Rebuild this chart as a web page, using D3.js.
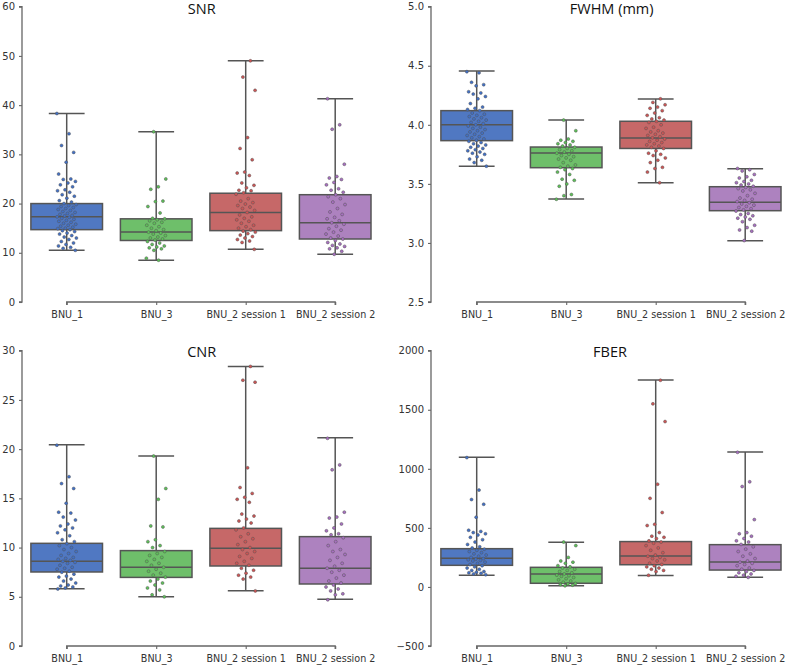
<!DOCTYPE html>
<html><head><meta charset="utf-8">
<script src="https://cdn.jsdelivr.net/npm/d3@7"></script>
<style>
body{margin:0;background:#fff;}
svg{display:block;}
</style></head>
<body>
<svg id="chart" width="787" height="668"></svg>
<script>
const categories = ["BNU_1", "BNU_3", "BNU_2 session 1", "BNU_2 session 2"];
const titles = ["SNR", "FWHM (mm)", "CNR", "FBER"];

// box stats: [min, q1, median, q3, max]
const snrBox = [[10.5,14.7,17.3,20.0,38.3],[8.5,12.5,14.2,16.9,34.6],[10.7,14.5,18.2,22.1,49.0],[9.7,12.8,16.1,21.8,41.3]];
const fwhmBox = [[3.65,3.866,4.0,4.12,4.455],[3.372,3.637,3.762,3.812,4.04],[3.51,3.80,3.888,4.03,4.218],[3.019,3.273,3.345,3.476,3.629]];
const cnrBox = [[5.82,7.52,8.6,10.43,20.45],[5.01,6.97,7.99,9.69,19.3],[5.62,8.13,9.92,11.95,28.4],[4.74,6.30,7.89,11.11,21.15]];
const fberBox = [[100,183,242,324,1097],[10,31,110,166,378],[97,188,262,384,1752],[81,143,212,358,1142]];

const snrPoints = [
 [38.3,34.2,31.8,30.4,28.4,26.0,25.0,24.9,24.5,24.2,23.8,23.4,22.8,22.6,22.3,21.8,21.5,21.1,20.6,20.3,20.0,19.8,19.6,19.4,19.2,19.0,18.8,18.6,18.4,18.2,18.0,17.8,17.6,17.5,17.3,17.2,17.0,16.8,16.6,16.4,16.2,16.0,15.8,15.6,15.4,15.2,15.0,14.9,14.7,14.5,14.3,14.0,13.8,13.5,13.2,13.0,12.7,12.3,12.0,11.7,11.4,11.1,10.9,10.5],
 [34.6,25.0,23.4,22.9,20.5,20.4,19.4,18.1,17.0,16.9,16.7,16.5,16.2,16.0,15.6,15.3,15.0,14.7,14.5,14.2,14.0,13.8,13.5,13.2,13.0,12.8,12.6,12.3,12.0,11.7,11.4,11.2,11.0,10.8,10.5,8.9,8.5],
 [49.0,45.7,43.0,33.4,31.2,28.9,26.4,26.2,25.7,24.2,23.7,23.2,22.7,22.6,22.2,21.9,21.0,20.5,20.2,19.9,19.6,19.3,19.0,18.6,18.2,17.7,17.3,17.0,16.7,16.4,16.0,15.6,15.3,15.0,14.7,14.4,14.2,13.9,13.6,13.3,13.0,12.7,12.4,12.1,10.7],
 [41.3,36.0,35.1,28.0,25.5,25.2,24.9,24.3,23.8,23.0,22.7,22.3,21.8,21.4,21.0,20.3,19.8,19.0,18.3,17.8,17.2,16.9,16.5,16.1,15.8,15.4,14.9,14.6,14.2,13.8,13.4,13.0,12.8,12.5,12.1,11.8,11.5,11.3,11.0,10.8,10.3,9.7]
];
const fwhmPoints = [
 [4.45,4.44,4.36,4.34,4.33,4.28,4.27,4.26,4.24,4.22,4.18,4.15,4.14,4.13,4.12,4.10,4.09,4.08,4.07,4.06,4.05,4.04,4.03,4.02,4.01,4.00,3.99,3.98,3.97,3.96,3.95,3.94,3.93,3.92,3.91,3.90,3.89,3.88,3.87,3.86,3.85,3.84,3.83,3.82,3.81,3.80,3.79,3.78,3.77,3.76,3.75,3.73,3.71,3.70,3.68,3.65],
 [4.04,3.95,3.88,3.87,3.86,3.85,3.84,3.83,3.82,3.81,3.80,3.79,3.78,3.77,3.76,3.75,3.74,3.73,3.72,3.71,3.70,3.68,3.66,3.65,3.64,3.63,3.62,3.60,3.58,3.54,3.53,3.50,3.48,3.41,3.40,3.37],
 [4.22,4.19,4.17,4.15,4.14,4.12,4.10,4.08,4.06,4.05,4.04,4.03,4.02,4.00,3.98,3.97,3.95,3.94,3.93,3.92,3.91,3.90,3.89,3.88,3.87,3.86,3.85,3.84,3.83,3.82,3.81,3.80,3.78,3.76,3.75,3.74,3.72,3.70,3.68,3.64,3.63,3.60,3.51],
 [3.63,3.62,3.61,3.58,3.56,3.55,3.53,3.52,3.51,3.50,3.49,3.48,3.47,3.46,3.45,3.44,3.42,3.40,3.38,3.37,3.36,3.35,3.34,3.33,3.32,3.31,3.30,3.29,3.28,3.27,3.25,3.24,3.23,3.22,3.21,3.20,3.18,3.15,3.13,3.11,3.10,3.02]
];
const cnrPoints = [
 [20.4,17.2,16.5,16.0,14.5,13.6,13.5,13.1,12.8,12.4,12.2,12.0,11.8,11.5,11.2,10.8,10.6,10.4,10.2,10.0,9.8,9.6,9.4,9.2,9.0,8.9,8.8,8.7,8.6,8.5,8.4,8.2,8.0,7.9,7.8,7.6,7.5,7.3,7.1,7.0,6.8,6.6,6.4,6.2,6.1,6.0,5.9,5.8],
 [19.3,16.0,14.9,12.2,12.1,10.8,10.6,10.2,10.0,9.6,9.4,9.2,9.0,8.8,8.6,8.4,8.2,8.0,7.8,7.6,7.4,7.2,7.0,6.8,6.6,6.4,6.2,5.9,5.7,5.2,5.0],
 [28.4,27.0,26.8,18.1,16.1,15.5,15.1,14.9,14.6,13.4,13.2,12.9,12.7,12.5,12.0,11.8,11.4,11.1,10.9,10.6,10.3,10.0,9.8,9.6,9.4,9.1,8.9,8.6,8.4,8.2,7.9,7.7,7.4,7.2,7.0,6.8,5.6],
 [21.1,18.4,17.9,13.6,13.1,13.0,12.4,12.0,11.7,11.4,11.3,11.0,10.6,10.2,9.8,9.6,9.3,9.0,8.7,8.4,8.1,7.9,7.7,7.5,7.2,6.9,6.6,6.4,6.2,6.0,5.8,5.6,5.3,5.2,4.7]
];
const fberPoints = [
 [1095,820,740,700,590,480,470,460,450,440,420,400,380,360,340,330,320,310,300,290,280,270,260,250,240,235,230,225,220,210,200,190,180,170,160,150,140,130,125,120,115,110,104],
 [380,350,250,220,210,200,180,170,160,150,140,130,120,110,100,95,90,80,70,60,50,40,30,25,20,15,10],
 [1750,1550,1400,870,750,630,530,520,460,430,420,410,390,380,370,350,330,310,290,270,260,250,240,230,220,200,190,180,170,160,150,140,130,99],
 [1140,890,850,570,460,450,430,410,390,380,360,340,320,300,280,260,240,220,210,200,190,180,160,150,140,130,120,110,100,90,81]
];

const snrTicks = [0,10,20,30,40,50,60];
const fwhmTicks = [2.5,3.0,3.5,4.0,4.5,5.0];
const cnrTicks = [0,5,10,15,20,25,30];
const fberTicks = [-500,0,500,1000,1500,2000];

const boxColors = ["#5078c2", "#6ebf6a", "#c66868", "#ad82bf"];
const pointColors = ["#4070c8", "#5cc257", "#cf5454", "#a86fc2"];

const svg = d3.select("#chart");
const lineCol = "#555";

const panels = [
  {title: titles[0], box: snrBox, pts: snrPoints, ticks: snrTicks, fmt: d3.format("d"), x0: 22, x1: 66.7, x2: 335.2, yTop: 6.7, yBot: 302, tx: 201.7, tyb: 14},
  {title: titles[1], box: fwhmBox, pts: fwhmPoints, ticks: fwhmTicks, fmt: d3.format(".1f"), x0: 431, x1: 476.7, x2: 745.2, yTop: 6.7, yBot: 302, tx: 611.7, tyb: 14},
  {title: titles[2], box: cnrBox, pts: cnrPoints, ticks: cnrTicks, fmt: d3.format("d"), x0: 22, x1: 66.7, x2: 335.2, yTop: 350.7, yBot: 646, tx: 201.7, tyb: 356.5},
  {title: titles[3], box: fberBox, pts: fberPoints, ticks: fberTicks, fmt: d => (d < 0 ? "\u2212" + Math.abs(d) : String(d)), x0: 431, x1: 476.7, x2: 745.2, yTop: 350.7, yBot: 646, tx: 610, tyb: 356.5}
];

panels.forEach(p => {
  const g = svg.append("g");
  const y = d3.scaleLinear().domain([p.ticks[0], p.ticks[p.ticks.length-1]]).range([p.yBot, p.yTop]);
  const x = d3.scalePoint().domain(categories).range([p.x1, p.x2]);
  const step = x.step();
  const bw = step * 0.8;

  const yAxis = d3.axisLeft(y).tickValues(p.ticks).tickFormat(p.fmt).tickSize(3).tickPadding(4);
  const ya = g.append("g").attr("transform", `translate(${p.x0},0)`).call(yAxis);
  ya.select(".domain").attr("stroke", "#666").attr("stroke-width", 1.3).attr("d", `M-3,${y(p.ticks[0])}H0V${y(p.ticks[p.ticks.length-1])}H-3`);
  ya.selectAll(".tick line").attr("stroke", "#666").attr("stroke-width", 1.1);
  ya.selectAll("text").attr("font-family", "DejaVu Sans").attr("font-size", "10px").attr("fill", "#333");

  const xAxis = d3.axisBottom(x).tickSize(3).tickPadding(6);
  const xa = g.append("g").attr("transform", `translate(0,${p.yBot})`).call(xAxis);
  xa.select(".domain").attr("stroke", "#666").attr("stroke-width", 1.3).attr("d", `M${p.x1},3V0H${p.x2}V3`);
  xa.selectAll(".tick line").attr("stroke", "#666").attr("stroke-width", 1.1);
  xa.selectAll("text").attr("font-family", "DejaVu Sans").attr("font-size", "9.6px").attr("fill", "#333");

  g.append("text").attr("x", p.tx).attr("y", p.tyb).attr("text-anchor", "middle")
    .attr("font-family", "Open Sans").attr("font-size", "14.5px").attr("fill", "#111").text(p.title);

  categories.forEach((c, i) => {
    const cx = x(c);
    const [mn, q1, md, q3, mx] = p.box[i];
    const bg = g.append("g");
    bg.append("line").attr("x1", cx).attr("x2", cx).attr("y1", y(q3)).attr("y2", y(mx)).attr("stroke", lineCol).attr("stroke-width", 1.5);
    bg.append("line").attr("x1", cx).attr("x2", cx).attr("y1", y(q1)).attr("y2", y(mn)).attr("stroke", lineCol).attr("stroke-width", 1.5);
    bg.append("line").attr("x1", cx - bw/4).attr("x2", cx + bw/4).attr("y1", y(mx)).attr("y2", y(mx)).attr("stroke", lineCol).attr("stroke-width", 1.5);
    bg.append("line").attr("x1", cx - bw/4).attr("x2", cx + bw/4).attr("y1", y(mn)).attr("y2", y(mn)).attr("stroke", lineCol).attr("stroke-width", 1.5);
    bg.append("rect").attr("x", cx - bw/2).attr("y", y(q3)).attr("width", bw).attr("height", y(q1) - y(q3))
      .attr("fill", boxColors[i]).attr("stroke", lineCol).attr("stroke-width", 1.5);
    bg.append("line").attr("x1", cx - bw/2).attr("x2", cx + bw/2).attr("y1", y(md)).attr("y2", y(md)).attr("stroke", lineCol).attr("stroke-width", 1.5);

    const jw = step * 0.11;
    g.append("g").selectAll("circle").data(p.pts[i]).join("circle")
      .attr("cx", (d, k) => cx + (((k * 0.6180339 + i * 0.37) % 1) - 0.5) * 2 * jw)
      .attr("cy", d => y(d))
      .attr("r", 1.5)
      .attr("fill", pointColors[i])
      .attr("stroke", "#555").attr("stroke-width", 0.5);
  });
});
</script>
</body></html>
